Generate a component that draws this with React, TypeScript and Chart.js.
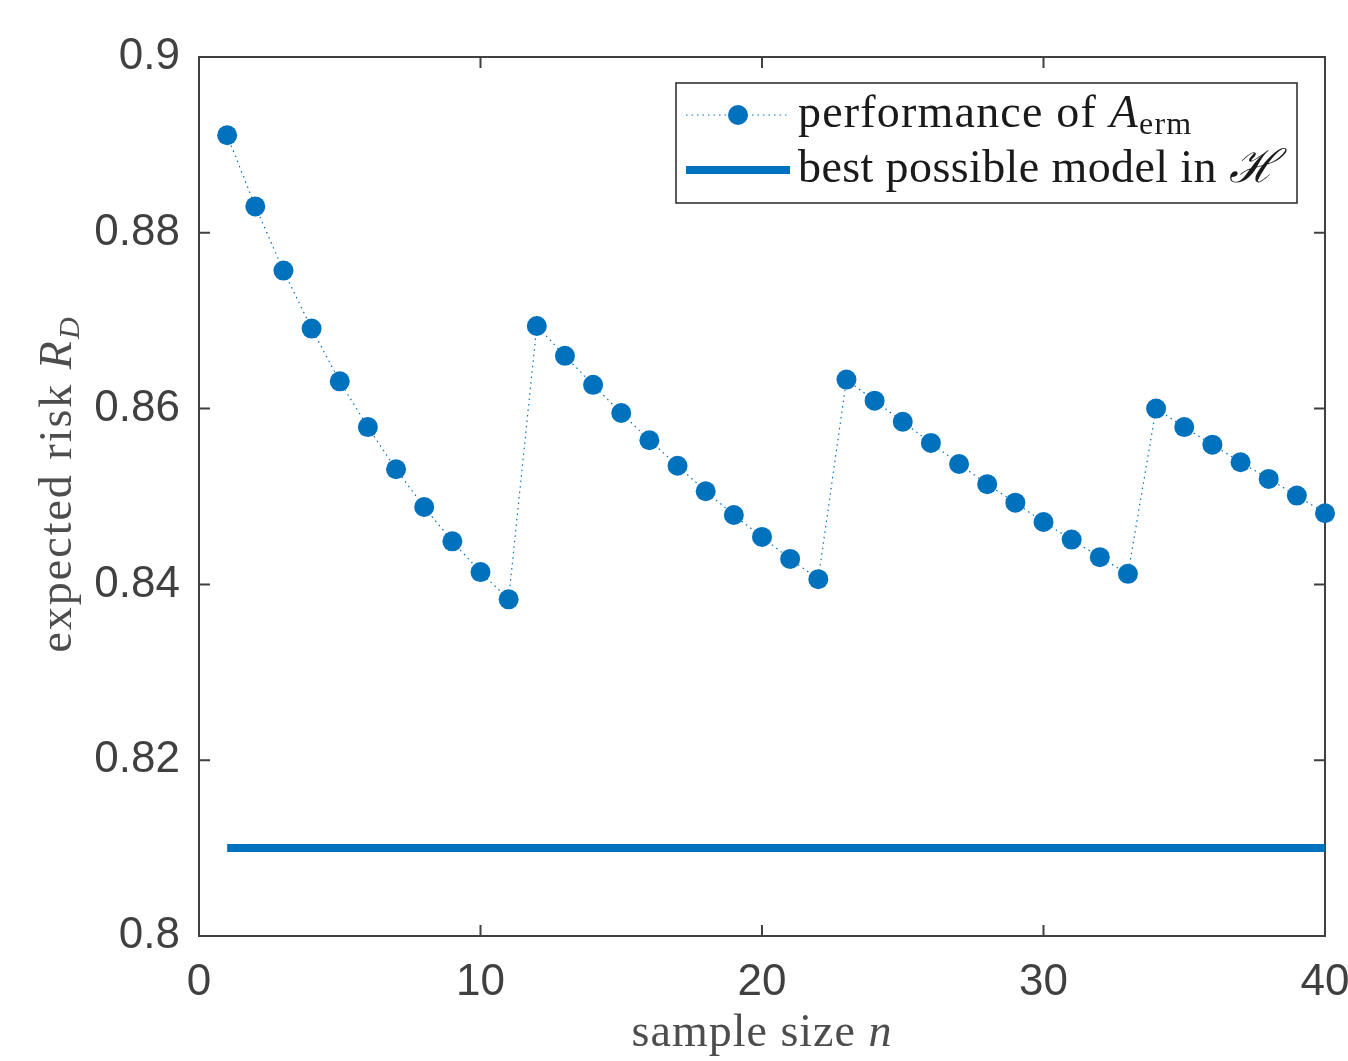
import React, { useEffect, useRef } from "react";
import { Chart, registerables } from "chart.js";

Chart.register(...registerables);

const sampleSizes = Array.from({ length: 40 }, (_, i) => i + 1);
const ermRisk = [
  0.8911, 0.883, 0.8757, 0.8691, 0.8631, 0.8579, 0.8531, 0.8488, 0.8449, 0.8414, 0.8383,
  0.8694, 0.866, 0.8627, 0.8595, 0.8564, 0.8535, 0.8506, 0.8479, 0.8454, 0.8429, 0.8406,
  0.8633, 0.8609, 0.8585, 0.8561, 0.8537, 0.8514, 0.8493, 0.8471, 0.8451, 0.8431, 0.8412,
  0.86, 0.8579, 0.8559, 0.8539, 0.852, 0.8501, 0.8481,
];
const bestRisk = 0.81;
const bestRange = [1, 40];
const xTicks = [0, 10, 20, 30, 40];
const yTicks = [0.8, 0.82, 0.84, 0.86, 0.88, 0.9];

const BLUE = "#0072BD";
const AXIS = "#404040";
const SERIF = "'Liberation Serif', 'DejaVu Serif', serif";
const SANS = "'Liberation Sans', Arial, sans-serif";

type Run = { text: string; font: string; dy?: number };

function drawRuns(
  ctx: CanvasRenderingContext2D,
  x: number,
  y: number,
  runs: Run[],
  align: "left" | "center",
  spacing = 0
) {
  (ctx as any).letterSpacing = `${spacing}px`;
  let total = 0;
  for (const r of runs) {
    ctx.font = r.font;
    total += ctx.measureText(r.text).width;
  }
  let cx = align === "center" ? x - total / 2 : x;
  ctx.textAlign = "left";
  ctx.textBaseline = "alphabetic";
  for (const r of runs) {
    ctx.font = r.font;
    ctx.fillText(r.text, cx, y + (r.dy || 0));
    cx += ctx.measureText(r.text).width;
  }
  (ctx as any).letterSpacing = "0px";
}

const framePlugin = {
  id: "frame",
  beforeDatasetsDraw(chart: any) {
    const { ctx, chartArea: a, scales } = chart;
    ctx.save();
    ctx.strokeStyle = AXIS;
    ctx.lineWidth = 2;
    ctx.strokeRect(a.left, a.top, a.right - a.left, a.bottom - a.top);
    const tl = 11;
    ctx.beginPath();
    for (const v of xTicks) {
      const px = scales.x.getPixelForValue(v);
      ctx.moveTo(px, a.bottom);
      ctx.lineTo(px, a.bottom - tl);
      ctx.moveTo(px, a.top);
      ctx.lineTo(px, a.top + tl);
    }
    for (const v of yTicks) {
      const py = scales.y.getPixelForValue(v);
      ctx.moveTo(a.left, py);
      ctx.lineTo(a.left + tl, py);
      ctx.moveTo(a.right, py);
      ctx.lineTo(a.right - tl, py);
    }
    ctx.stroke();
    ctx.restore();
  },
  afterDraw(chart: any) {
    const { ctx, chartArea: a } = chart;
    ctx.save();
    // axis titles
    ctx.fillStyle = "#4d4d4d";
    drawRuns(ctx, (a.left + a.right) / 2, 1046, [
      { text: "sample size ", font: `46px ${SERIF}` },
      { text: "n", font: `italic 46px ${SERIF}` },
    ], "center", 1);
    ctx.save();
    ctx.translate(71, 484);
    ctx.rotate(-Math.PI / 2);
    drawRuns(ctx, 0, 0, [
      { text: "expected risk ", font: `46px ${SERIF}` },
      { text: "R", font: `italic 46px ${SERIF}` },
      { text: "D", font: `italic 30px ${SERIF}`, dy: 8 },
    ], "center", 2);
    ctx.restore();

    // legend
    const lx = 676, ly = 83, lw = 621, lh = 120;
    ctx.fillStyle = "#ffffff";
    ctx.fillRect(lx, ly, lw, lh);
    ctx.strokeStyle = "#262626";
    ctx.lineWidth = 1.5;
    ctx.strokeRect(lx, ly, lw, lh);

    ctx.strokeStyle = BLUE;
    ctx.lineWidth = 1.2;
    ctx.setLineDash([1.5, 4]);
    ctx.beginPath();
    ctx.moveTo(686, 115);
    ctx.lineTo(790, 115);
    ctx.stroke();
    ctx.setLineDash([]);
    ctx.fillStyle = BLUE;
    ctx.beginPath();
    ctx.arc(738, 115, 10, 0, Math.PI * 2);
    ctx.fill();

    ctx.strokeStyle = BLUE;
    ctx.lineWidth = 8;
    ctx.beginPath();
    ctx.moveTo(686, 170);
    ctx.lineTo(790, 170);
    ctx.stroke();

    ctx.fillStyle = "#1a1a1a";
    drawRuns(ctx, 798, 127, [
      { text: "performance of ", font: `46px ${SERIF}` },
      { text: "A", font: `italic 46px ${SERIF}` },
      { text: "erm", font: `32px ${SERIF}`, dy: 7 },
    ], "left", 1.2);
    drawRuns(ctx, 798, 182, [
      { text: "best possible model in ", font: `46px ${SERIF}` },
      { text: "\u210B", font: `italic 46px ${SERIF}` },
    ], "left", 0.4);
    ctx.restore();
  },
};

export default function App() {
  const ref = useRef<HTMLCanvasElement | null>(null);
  useEffect(() => {
    if (!ref.current) return;
    const chart = new Chart(ref.current, {
      type: "line",
      data: {
        datasets: [
          {
            label: "performance of A_erm",
            data: sampleSizes.map((n, i) => ({ x: n, y: ermRisk[i] })),
            borderColor: BLUE,
            borderWidth: 1.2,
            borderDash: [1.5, 4],
            pointRadius: 10,
            pointBackgroundColor: BLUE,
            pointBorderWidth: 0,
            clip: false as any,
            tension: 0,
          },
          {
            label: "best possible model in H",
            data: bestRange.map((n) => ({ x: n, y: bestRisk })),
            borderColor: BLUE,
            borderWidth: 8,
            pointRadius: 0,
            clip: false as any,
          },
        ],
      },
      options: {
        animation: false,
        responsive: false,
        events: [],
        layout: { padding: { top: 57, right: 23, left: 0, bottom: 0 } },
        plugins: { legend: { display: false }, tooltip: { enabled: false } },
        scales: {
          x: {
            type: "linear",
            min: 0,
            max: 40,
            grid: { display: false, drawTicks: false },
            border: { display: false },
            afterBuildTicks: (s: any) => { s.ticks = xTicks.map((v) => ({ value: v })); },
            afterFit: (s: any) => {
              s.height = 125;
              s.paddingLeft = 0;
              s.paddingRight = 0;
            },
            ticks: { font: { family: SANS, size: 44 }, color: AXIS, padding: 20, maxRotation: 0 },
          },
          y: {
            type: "linear",
            min: 0.8,
            max: 0.9,
            grid: { display: false, drawTicks: false },
            border: { display: false },
            afterBuildTicks: (s: any) => { s.ticks = yTicks.map((v) => ({ value: v })); },
            afterFit: (s: any) => {
              s.width = 199;
              s.paddingTop = 0;
              s.paddingBottom = 0;
            },
            ticks: {
              font: { family: SANS, size: 44 },
              color: AXIS,
              padding: 19,
              callback: (v: any) => String(Number(Number(v).toFixed(2))),
            },
          },
        },
      },
      plugins: [framePlugin],
    } as any);
    return () => chart.destroy();
  }, []);
  return (
    <div style={{ position: "fixed", left: 0, top: 0, width: 1348, height: 1061, background: "#fff" }}>
      <canvas ref={ref} width={1348} height={1061} style={{ display: "block" }} />
    </div>
  );
}
